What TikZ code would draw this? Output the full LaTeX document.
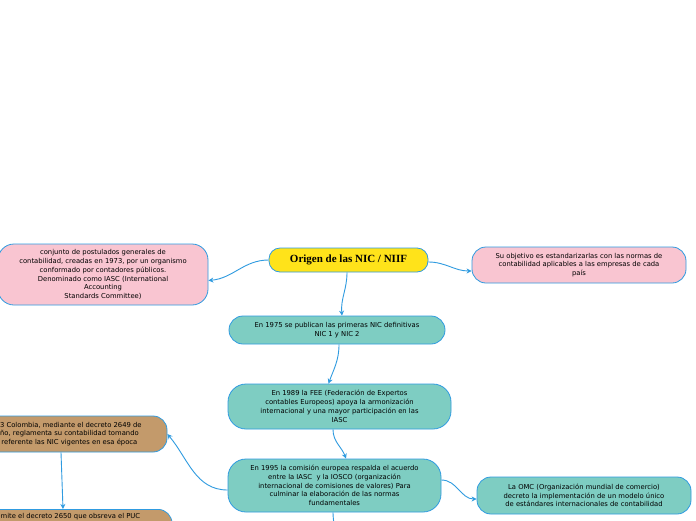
\documentclass[tikz,border=0pt]{standalone}
\usepackage{fontspec}
\setmainfont{DejaVu Sans}
\newfontfamily\titlefont{Liberation Serif}
\usetikzlibrary{arrows.meta}
\definecolor{mapblue}{HTML}{2F9BE0}
\definecolor{rosa}{HTML}{F9C5D1}
\definecolor{amarillo}{HTML}{FFE31A}
\definecolor{verde}{HTML}{7ECDC2}
\definecolor{cafe}{HTML}{C39A6B}
\begin{document}
\begin{tikzpicture}[x=1pt,y=1pt,
 idea/.style={draw=mapblue,line width=0.8pt,rounded corners=14pt,align=center,inner sep=4pt,font=\fontsize{6.8}{8.8}\selectfont},
 enlace/.style={mapblue,line width=0.9pt,-{Stealth[length=5pt,width=5pt]}}]
 \useasboundingbox (0,0) rectangle (696,-520);
 \fill[white] (0,0) rectangle (696,-520);
 \clip (0,0) rectangle (696,-520);
 % nodos
 \node[idea,fill=amarillo,rounded corners=11pt,minimum width=159pt,minimum height=24pt,font=\titlefont\bfseries\fontsize{11}{12}\selectfont] (origen) at (348.5,-260) {Origen de las NIC / NIIF};
 \node[idea,fill=rosa,rounded corners=16pt,minimum width=210pt,minimum height=61pt] (conjunto) at (103,-274.5) {conjunto de postulados generales de\\contabilidad, creadas en 1973, por un organismo\\conformado por contadores públicos.\\Denominado como IASC (International\\Accounting\\Standards Committee)};
 \node[idea,fill=rosa,minimum width=214pt,minimum height=36pt] (objetivo) at (579,-265) {Su objetivo es estandarizarlas con las normas de\\contabilidad aplicables a las empresas de cada\\país};
 \node[idea,fill=verde,minimum width=216pt,minimum height=28pt] (nic) at (337,-330) {En 1975 se publican las primeras NIC definitivas\\NIC 1 y NIC 2};
 \node[idea,fill=verde,rounded corners=18pt,minimum width=223pt,minimum height=45pt] (fee) at (339.5,-406.5) {En 1989 la FEE (Federación de Expertos\\contables Europeos) apoya la armonización\\internacional y una mayor participación en las\\IASC};
 \node[idea,fill=verde,rounded corners=18pt,minimum width=213pt,minimum height=53pt] (acuerdo) at (334.5,-485.5) {En 1995 la comisión europea respalda el acuerdo\\entre la IASC \ y la IOSCO (organización\\internacional de comisiones de valores) Para\\culminar la elaboración de las normas\\fundamentales};
 \node[idea,fill=verde,minimum width=214pt,minimum height=37pt] (omc) at (584,-495.5) {La OMC (Organización mundial de comercio)\\decreto la implementación de un modelo único\\de estándares internacionales de contabilidad};
 \node[idea,fill=cafe,minimum width=216pt,minimum height=36pt] (colombia) at (59,-434) {En 1993 Colombia, mediante el decreto 2649 de\\este año, reglamenta su contabilidad tomando\\como referente las NIC vigentes en esa época};
 \node[idea,fill=cafe,anchor=north,minimum width=218pt,text depth=22pt] (decreto) at (63,-509) {Se emite el decreto 2650 que obsreva el PUC};
 \coordinate (sigue) at (336,-540);
 % enlaces
 \draw[enlace] (origen.west) to[out=180,in=5] ([yshift=-6pt]conjunto.east);
 \draw[enlace] ([yshift=-2pt]origen.east) to[out=0,in=180] ([yshift=-6pt]objetivo.west);
 \draw[enlace] ([xshift=-1.5pt]origen.south) to[out=-90,in=95] ([xshift=5pt]nic.north);
 \draw[enlace] ([xshift=2pt]nic.south) to[out=-90,in=70] ([xshift=-11pt]fee.north);
 \draw[enlace] ([xshift=-6.5pt]fee.south) to[out=-90,in=110] ([xshift=11.5pt]acuerdo.north);
 \draw[enlace] ([yshift=-4.5pt]acuerdo.west) to[out=180,in=-50] (colombia.east);
 \draw[enlace] ([yshift=5.5pt]acuerdo.east) to[out=0,in=180] ([yshift=-3.5pt]omc.west);
 \draw[mapblue,line width=0.9pt] ([xshift=-1.5pt]acuerdo.south) to[out=-90,in=90] (sigue);
 \draw[enlace] ([xshift=2pt]colombia.south) -- (decreto.north);
\end{tikzpicture}
\end{document}
